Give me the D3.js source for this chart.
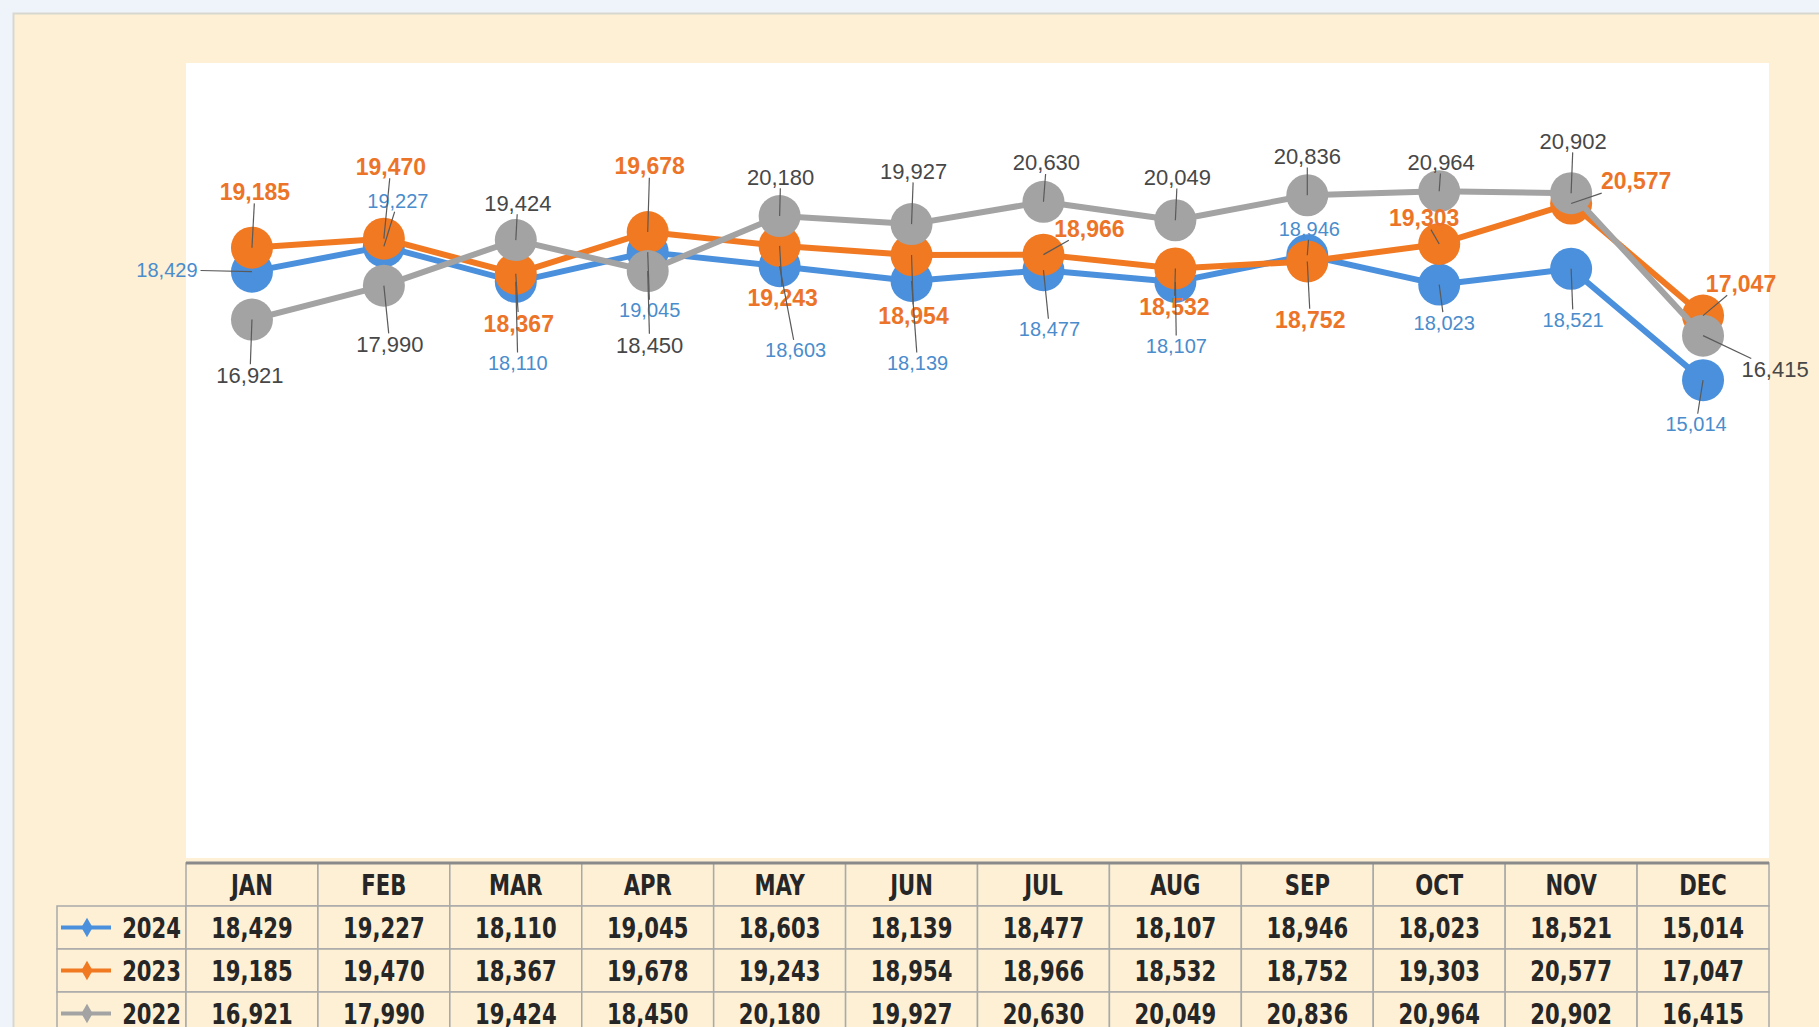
<!DOCTYPE html>
<html>
<head>
<meta charset="utf-8">
<script src="https://cdn.jsdelivr.net/npm/d3@7"></script>
<style>
  html, body { margin: 0; padding: 0; background: #eef4fa; overflow: hidden; }
  svg { display: block; }
</style>
</head>
<body>
<div id="chart"></div>
<script>
// data
var months = ['JAN','FEB','MAR','APR','MAY','JUN','JUL','AUG','SEP','OCT','NOV','DEC'];
var years = ['2024','2023','2022'];
var sales2024 = [18429,19227,18110,19045,18603,18139,18477,18107,18946,18023,18521,15014];
var sales2023 = [19185,19470,18367,19678,19243,18954,18966,18532,18752,19303,20577,17047];
var sales2022 = [16921,17990,19424,18450,20180,19927,20630,20049,20836,20964,20902,16415];
var yMax = 25000;

drawSalesChart();

function drawSalesChart(){
    var W = 1819, H = 1027;
    var plot = {left: 186, right: 1769, top: 63, bottom: 858};
    var colors = {'2024': '#4a90dc', '2023': '#f07922', '2022': '#a3a3a3'};
    var labelColors = {'2024': '#4a8ccc', '2023': '#ec7428', '2022': '#474747'};
    var labelFont = {'2024': 20, '2023': 23, '2022': 22};
    var labelWeight = {'2024': 'normal', '2023': 'bold', '2022': 'normal'};

    // where each data label sits, relative to its point (pixels)
    var labelOffsets = {
        '2024': [[-85,-2],[14,-45],[2,81],[2,58],[16,84],[6,82],[6,59],[1,64],[2,-26],[5,38],[2,51],[-7,44]],
        '2023': [[3,-56],[7,-72],[3,50],[2,-66],[3,52],[2,61],[46,-26],[-1,39],[3,59],[-15,-26],[65,-22],[38,-32]],
        '2022': [[-2,56],[6,59],[2,-37],[2,74],[1,-39],[2,-53],[3,-39],[2,-43],[0,-39],[2,-29],[2,-52],[72,34]]
    };

    var series = [
        {key: years[0], values: sales2024},
        {key: years[1], values: sales2023},
        {key: years[2], values: sales2022}
    ];

    var svg = d3.select('#chart').append('svg')
        .attr('width', W).attr('height', H)
        .style('font-family', '"Liberation Sans", Arial, sans-serif');

    // outer cream panel
    svg.append('rect')
        .attr('x', 13.5).attr('y', 13.5)
        .attr('width', W + 20).attr('height', H + 20)
        .attr('fill', '#fdf0d5')
        .attr('stroke', '#d8d8d0').attr('stroke-width', 2);

    // white plot area
    svg.append('rect')
        .attr('x', plot.left).attr('y', plot.top)
        .attr('width', plot.right - plot.left).attr('height', plot.bottom - plot.top)
        .attr('fill', '#ffffff');

    var x = d3.scaleBand().domain(months).range([plot.left, plot.right]);
    var y = d3.scaleLinear().domain([0, yMax]).range([857, plot.top]);
    var cx = function(i){ return x(months[i]) + x.bandwidth() / 2; };

    var line = d3.line()
        .x(function(d, i){ return cx(i); })
        .y(function(d){ return y(d); });

    var seriesG = svg.append('g').selectAll('g.series')
        .data(series).enter().append('g').attr('class', 'series');

    seriesG.append('path')
        .attr('d', function(d){ return line(d.values); })
        .attr('fill', 'none')
        .attr('stroke', function(d){ return colors[d.key]; })
        .attr('stroke-width', 6)
        .attr('stroke-linejoin', 'round');

    seriesG.selectAll('circle')
        .data(function(d){ return d.values.map(function(v, i){ return {key: d.key, v: v, i: i}; }); })
        .enter().append('circle')
        .attr('cx', function(d){ return cx(d.i); })
        .attr('cy', function(d){ return y(d.v); })
        .attr('r', 21)
        .attr('fill', function(d){ return colors[d.key]; });

    // data labels + leader lines
    var fmt = d3.format(',');
    var leaderG = svg.append('g');
    var labelG = svg.append('g');
    series.forEach(function(s){
        s.values.forEach(function(v, i){
            var px = cx(i), py = y(v);
            var off = labelOffsets[s.key][i];
            var lx = px + off[0], ly = py + off[1];
            var t = labelG.append('text')
                .attr('x', lx).attr('y', ly)
                .attr('text-anchor', 'middle')
                .attr('dominant-baseline', 'central')
                .attr('fill', labelColors[s.key])
                .attr('font-size', labelFont[s.key])
                .attr('font-weight', labelWeight[s.key])
                .text(fmt(v));
            var hw = t.node().getComputedTextLength() / 2 + 3;
            var hh = labelFont[s.key] * 0.42 + 2;
            var dx = px - lx, dy = py - ly;
            var k = Math.min(dx ? hw / Math.abs(dx) : Infinity, dy ? hh / Math.abs(dy) : Infinity);
            if (k < 0.6) {
                leaderG.append('line')
                    .attr('x1', lx + dx * k).attr('y1', ly + dy * k)
                    .attr('x2', px).attr('y2', py)
                    .attr('stroke', '#5a5a5a')
                    .attr('stroke-width', 1.2);
            }
        });
    });
    leaderG.raise();

    // data table under the plot
    var tableFont = '"Liberation Sans Narrow", "DejaVu Sans Condensed", sans-serif';
    var rowTop = 863, rowH = 43;
    var legendLeft = 57;
    var squeeze = 0.84;
    var table = svg.append('g').style('font-family', tableFont);

    // condensed bold cell text, squeezed sideways like the original
    function cellText(g, tx, ty, str, anchor){
        return g.append('text')
            .attr('transform', 'translate(' + tx + ',' + ty + ') scale(' + squeeze + ',1)')
            .attr('text-anchor', anchor || 'middle')
            .attr('dominant-baseline', 'central')
            .attr('font-size', 28).attr('font-weight', 'bold')
            .attr('fill', '#262626')
            .text(str);
    }

    table.selectAll('rect.head')
        .data(months).enter().append('rect')
        .attr('x', function(d){ return x(d); })
        .attr('y', rowTop)
        .attr('width', x.bandwidth()).attr('height', rowH)
        .attr('fill', '#fdf0d5')
        .attr('stroke', '#a9a9a9').attr('stroke-width', 1.5);

    months.forEach(function(m, i){
        cellText(table, cx(i), rowTop + rowH / 2 + 1, m);
    });

    series.forEach(function(s, r){
        var top = rowTop + rowH * (r + 1);
        table.append('rect')
            .attr('x', legendLeft).attr('y', top)
            .attr('width', plot.left - legendLeft).attr('height', rowH)
            .attr('fill', '#fdf0d5')
            .attr('stroke', '#a9a9a9').attr('stroke-width', 1.5);
        var my = top + rowH / 2;
        table.append('line')
            .attr('x1', legendLeft + 4).attr('x2', legendLeft + 54)
            .attr('y1', my).attr('y2', my)
            .attr('stroke', colors[s.key]).attr('stroke-width', 4);
        table.append('path')
            .attr('d', d3.symbol().type(d3.symbolDiamond).size(110))
            .attr('transform', 'translate(' + (legendLeft + 30) + ',' + my + ')')
            .attr('fill', colors[s.key]);
        cellText(table, plot.left - 5, my + 1, s.key, 'end');

        table.selectAll('rect.c' + s.key)
            .data(s.values).enter().append('rect')
            .attr('x', function(d, i){ return x(months[i]); })
            .attr('y', top)
            .attr('width', x.bandwidth()).attr('height', rowH)
            .attr('fill', '#fdf0d5')
            .attr('stroke', '#a9a9a9').attr('stroke-width', 1.5);
        s.values.forEach(function(v, i){
            cellText(table, cx(i), my + 1, fmt(v));
        });
    });

    // heavier rule along the top of the table
    table.append('line')
        .attr('x1', plot.left).attr('x2', plot.right)
        .attr('y1', rowTop).attr('y2', rowTop)
        .attr('stroke', '#8a8a8a').attr('stroke-width', 3);
}
</script>
</body>
</html>
